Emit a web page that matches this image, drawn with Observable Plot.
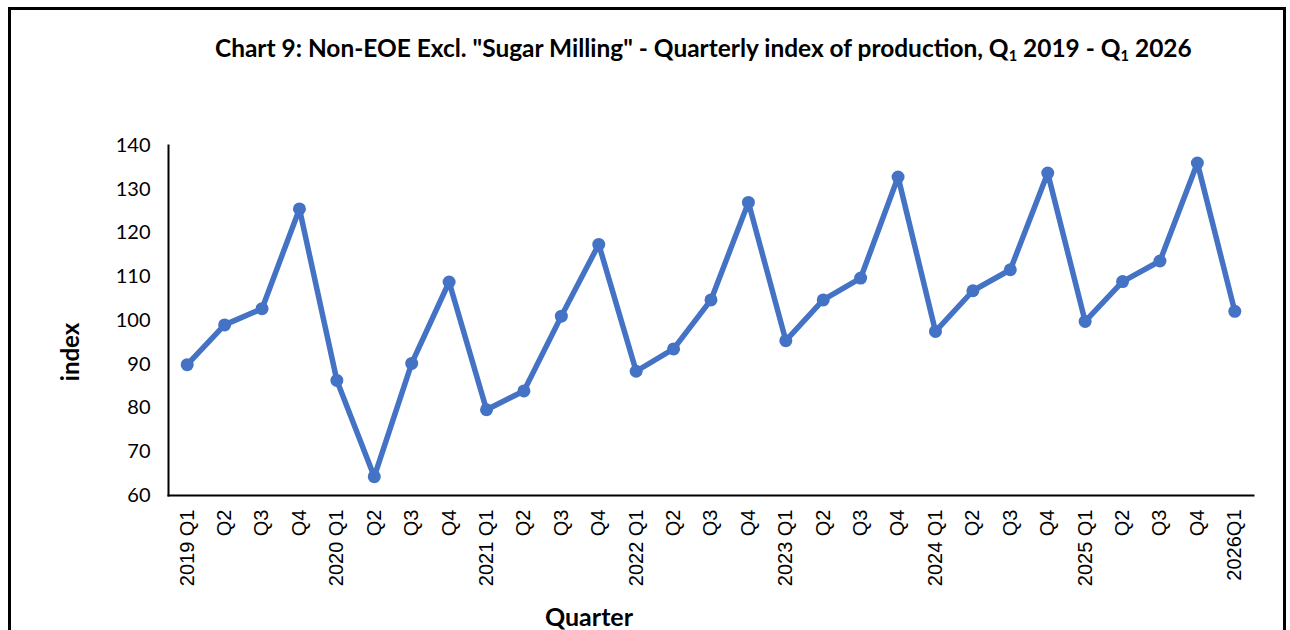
<!DOCTYPE html>
<html>
<head>
<meta charset="utf-8">
<script src="https://cdn.jsdelivr.net/npm/d3@7"></script>
<script src="https://cdn.jsdelivr.net/npm/@observablehq/plot@0.6"></script>
<style>
  html, body { margin: 0; padding: 0; background: #fff; overflow: hidden; }
  #wrap { position: relative; width: 1290px; height: 630px; }
  #border { position: absolute; left: 8px; top: 7px; width: 1278px; height: 660px; border: 3px solid #000; box-sizing: border-box; }
  #chart { position: absolute; left: 0; top: 0; }
  #title { position: absolute; left: 215px; top: 36px; font-family: Lato, "Open Sans", sans-serif; font-weight: bold; font-size: 22px; white-space: nowrap; color: #000; line-height: 1; }
  #title sub { font-size: 0.6em; vertical-align: -0.25em; }
  #ylab { position: absolute; left: 70px; top: 352px; transform: translate(-50%, -50%) rotate(-90deg); font-family: Lato, "Open Sans", sans-serif; font-weight: bold; font-size: 24px; color: #000; white-space: nowrap; line-height: 1; }
  #xlab { position: absolute; left: 589px; top: 616px; transform: translate(-50%, -50%); font-family: Lato, "Open Sans", sans-serif; font-weight: bold; font-size: 25px; color: #000; white-space: nowrap; line-height: 1; }
</style>
</head>
<body>
<div id="wrap">
  <div id="chart"></div>
  <div id="border"></div>
  <div id="title">Chart 9: Non-EOE Excl. "Sugar Milling" - Quarterly index of production, Q<sub>1</sub> 2019 - Q<sub>1</sub> 2026</div>
  <div id="ylab">index</div>
  <div id="xlab">Quarter</div>
</div>
<script>
const quarters = [
  "2019 Q1","2019 Q2","2019 Q3","2019 Q4",
  "2020 Q1","2020 Q2","2020 Q3","2020 Q4",
  "2021 Q1","2021 Q2","2021 Q3","2021 Q4",
  "2022 Q1","2022 Q2","2022 Q3","2022 Q4",
  "2023 Q1","2023 Q2","2023 Q3","2023 Q4",
  "2024 Q1","2024 Q2","2024 Q3","2024 Q4",
  "2025 Q1","2025 Q2","2025 Q3","2025 Q4",
  "2026Q1"
];
const tickLabels = [
  "2019 Q1","Q2","Q3","Q4",
  "2020 Q1","Q2","Q3","Q4",
  "2021 Q1","Q2","Q3","Q4",
  "2022 Q1","Q2","Q3","Q4",
  "2023 Q1","Q2","Q3","Q4",
  "2024 Q1","Q2","Q3","Q4",
  "2025 Q1","Q2","Q3","Q4",
  "2026Q1"
];
const values = [
  89.9, 99.0, 102.7, 125.5,
  86.3, 64.3, 90.2, 108.8,
  79.6, 83.9, 101.0, 117.4,
  88.4, 93.5, 104.7, 127.0,
  95.4, 104.7, 109.7, 132.8,
  97.5, 106.8, 111.6, 133.7,
  99.8, 108.9, 113.6, 136.0,
  102.1
];
const yTicks = [60, 70, 80, 90, 100, 110, 120, 130, 140];

const data = quarters.map((q, i) => ({q, v: values[i]}));
const labelOf = new Map(quarters.map((q, i) => [q, tickLabels[i]]));
const color = "#4472C4";

const plot = Plot.plot({
  width: 1290,
  height: 630,
  marginLeft: 168,
  marginRight: 37,
  marginTop: 145,
  marginBottom: 135,
  style: { background: "transparent", overflow: "visible" },
  x: { type: "point", domain: quarters, padding: 0.5, round: false },
  y: { domain: [60, 140] },
  marks: [
    Plot.axisY({
      ticks: yTicks, tickSize: 0, tickPadding: 18, label: null,
      fontSize: 20, fontFamily: "Lato, 'Open Sans', sans-serif", fill: "#000"
    }),
    Plot.axisX({
      tickSize: 0, tickPadding: 14, tickRotate: -90, label: null,
      tickFormat: d => labelOf.get(d),
      fontSize: 20, fontFamily: "'Liberation Sans', Arial, sans-serif", fill: "#000"
    }),
    Plot.frame({anchor: "left", stroke: "#000", strokeWidth: 2}),
    Plot.frame({anchor: "bottom", stroke: "#000", strokeWidth: 2}),
    Plot.line(data, {x: "q", y: "v", stroke: color, strokeWidth: 5.5, strokeLinejoin: "round"}),
    Plot.dot(data, {x: "q", y: "v", r: 6.5, fill: color, stroke: "none"})
  ]
});
document.getElementById("chart").appendChild(plot);

// fit the title text to the reference width
const t = document.getElementById("title");
const w = t.getBoundingClientRect().width;
t.style.fontSize = (22 * 977 / w).toFixed(2) + "px";
</script>
</body>
</html>
